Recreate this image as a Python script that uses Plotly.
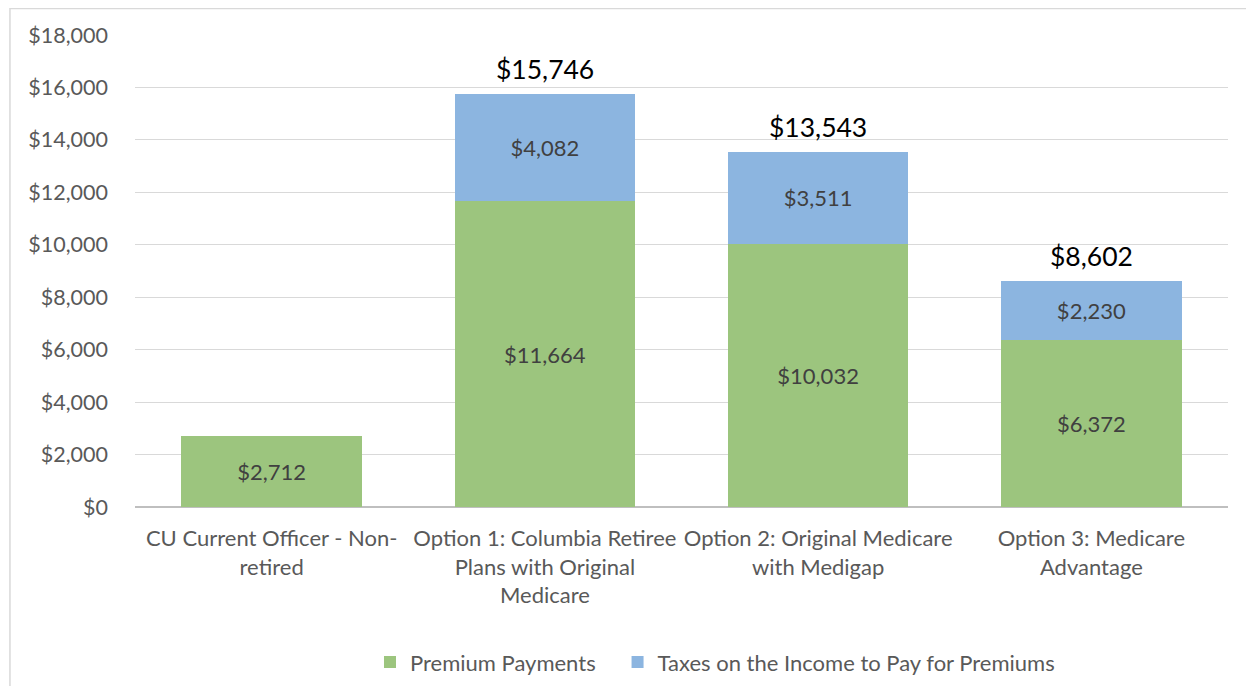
import plotly.graph_objects as go

categories = [
    "CU Current Officer - Non-<br>retired",
    "Option 1: Columbia Retiree<br>Plans with Original<br>Medicare",
    "Option 2: Original Medicare<br>with Medigap",
    "Option 3: Medicare<br>Advantage",
]
series_names = ["Premium Payments", "Taxes on the Income to Pay for Premiums"]
premium = [2712, 11664, 10032, 6372]
taxes = [None, 4082, 3511, 2230]
totals = [None, 15746, 13543, 8602]
tick_vals = [0, 2000, 4000, 6000, 8000, 10000, 12000, 14000, 16000, 18000]

FONT = "Lato"
green = "#9CC57E"
blue = "#8CB5E0"
PAD = "\u00a0" * 3

fig = go.Figure()
fig.add_trace(go.Bar(
    x=categories, y=premium, name=series_names[0] + PAD,
    marker=dict(color=green, line=dict(width=0)),
    text=[f"${v:,}" for v in premium], textposition="inside",
    insidetextanchor="middle",
    textfont=dict(family=FONT, size=22, color="#404040"),
))
fig.add_trace(go.Bar(
    x=categories, y=taxes, name=series_names[1],
    marker=dict(color=blue, line=dict(width=0)),
    text=[f"${v:,}" if v else "" for v in taxes], textposition="inside",
    insidetextanchor="middle",
    textfont=dict(family=FONT, size=22, color="#404040"),
))
for c, t in zip(categories, totals):
    if t:
        fig.add_annotation(x=c, y=t, text=f"${t:,}", showarrow=False,
                           yanchor="bottom", yshift=7,
                           font=dict(family=FONT, size=26.5, color="#000000"))

fig.add_shape(type="rect", xref="paper", yref="paper",
              x0=-0.1144, x1=1.022, y0=-0.40, y1=1.056,
              line=dict(color="#D9D9D9", width=1.5), layer="below")

fig.update_layout(
    barmode="stack", bargap=0.34,
    width=1254, height=686,
    margin=dict(l=127, r=34, t=27, b=186),
    paper_bgcolor="white", plot_bgcolor="white",
    font=dict(family=FONT, color="#595959", size=22),
    showlegend=True,
    legend=dict(orientation="h", x=0.215, xanchor="left", y=-0.326, yanchor="middle",
                font=dict(family=FONT, size=22, color="#595959"),
                itemwidth=30, traceorder="normal"),
    yaxis=dict(range=[0, 18000], tickvals=tick_vals,
               ticktext=[f"${v:,}" for v in tick_vals],
               showgrid=True, gridcolor="#D9D9D9", gridwidth=1,
               zeroline=True, zerolinecolor="#BFBFBF", zerolinewidth=1.5,
               showline=False, ticks="", ticklen=0, ticklabelstandoff=26,
               tickfont=dict(family=FONT, size=21.5, color="#595959")),
    xaxis=dict(showline=False, ticks="", ticklabelstandoff=16,
               tickfont=dict(family=FONT, size=22, color="#595959"),
               tickangle=0),
)
fig.write_html("out.html")
